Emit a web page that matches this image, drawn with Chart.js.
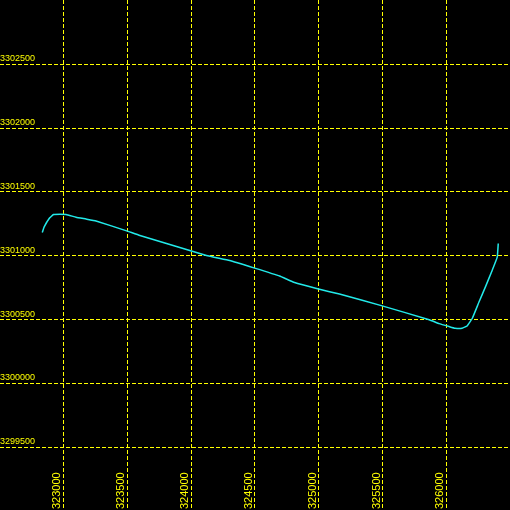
<!DOCTYPE html>
<html>
<head>
<meta charset="utf-8">
<title>Track plot</title>
<script src="https://cdn.jsdelivr.net/npm/chart.js@4"></script>
<style>
  html, body { margin: 0; padding: 0; background: #000; }
  #wrap { width: 510px; height: 510px; }
</style>
</head>
<body>
<div id="wrap"><canvas id="chart"></canvas></div>
<script>
// track coordinates
const eastings = [
  322834, 322849, 322891, 322922, 322974, 323021, 323099, 323177, 323255,
  323495, 323599, 324120, 324302, 324498, 324693, 324810, 324990, 325162,
  325490, 325865, 325943, 326021, 326068, 326123, 326162, 326203, 326255,
  326308, 326359, 326398, 326406
];
const northings = [
  3301182, 3301226, 3301296, 3301323, 3301325, 3301323, 3301302, 3301288, 3301273,
  3301195, 3301159, 3301002, 3300963, 3300903, 3300841, 3300790, 3300741, 3300700,
  3300609, 3300499, 3300468, 3300445, 3300432, 3300432, 3300450, 3300510, 3300637,
  3300762, 3300887, 3300989, 3301096
];
const xTicks = [323000, 323500, 324000, 324500, 325000, 325500, 326000];
const yTicks = [3299500, 3300000, 3300500, 3301000, 3301500, 3302000, 3302500];

const YELLOW = "#ffff00";
const CYAN = "#22eaea";

// draw tick labels inside the plot, like the original
const insideLabels = {
  id: "insideLabels",
  afterDraw(chart) {
    const { ctx } = chart;
    const xs = chart.scales.x, ys = chart.scales.y;
    ctx.save();
    ctx.fillStyle = YELLOW;
    ctx.font = "9px 'Liberation Sans'";
    ctx.textAlign = "left";
    ctx.textBaseline = "alphabetic";
    for (const v of yTicks) {
      const py = Math.round(ys.getPixelForValue(v));
      ctx.fillText(String(v), 0, py - 3);
    }
    ctx.font = "11px 'Liberation Sans'";
    for (const v of xTicks) {
      const px = Math.round(xs.getPixelForValue(v));
      ctx.save();
      ctx.translate(px - 3, 510);
      ctx.rotate(-Math.PI / 2);
      ctx.textAlign = "left";
      ctx.fillText(String(v), 1, 0);
      ctx.restore();
    }
    ctx.restore();
  },
};

const gridOpts = { color: YELLOW, lineWidth: 1, drawTicks: false };
const borderOpts = { display: false, dash: [4, 2] };

new Chart(document.getElementById("chart"), {
  type: "scatter",
  data: {
    datasets: [{
      data: eastings.map((x, i) => ({ x, y: northings[i] })),
      showLine: true,
      borderColor: CYAN,
      borderWidth: 1.5,
      pointRadius: 0,
      tension: 0.1,
    }],
  },
  options: {
    responsive: true,
    maintainAspectRatio: false,
    animation: false,
    devicePixelRatio: 1,
    layout: { padding: 0 },
    plugins: { legend: { display: false }, tooltip: { enabled: false } },
    scales: {
      x: {
        type: "linear",
        min: 322503,
        max: 326498,
        afterBuildTicks: (axis) => { axis.ticks = xTicks.map((value) => ({ value })); },
        ticks: { display: false },
        grid: gridOpts,
        border: borderOpts,
      },
      y: {
        type: "linear",
        min: 3299007,
        max: 3303005,
        afterBuildTicks: (axis) => { axis.ticks = yTicks.map((value) => ({ value })); },
        ticks: { display: false },
        grid: gridOpts,
        border: borderOpts,
      },
    },
  },
  plugins: [insideLabels],
});
</script>
</body>
</html>
